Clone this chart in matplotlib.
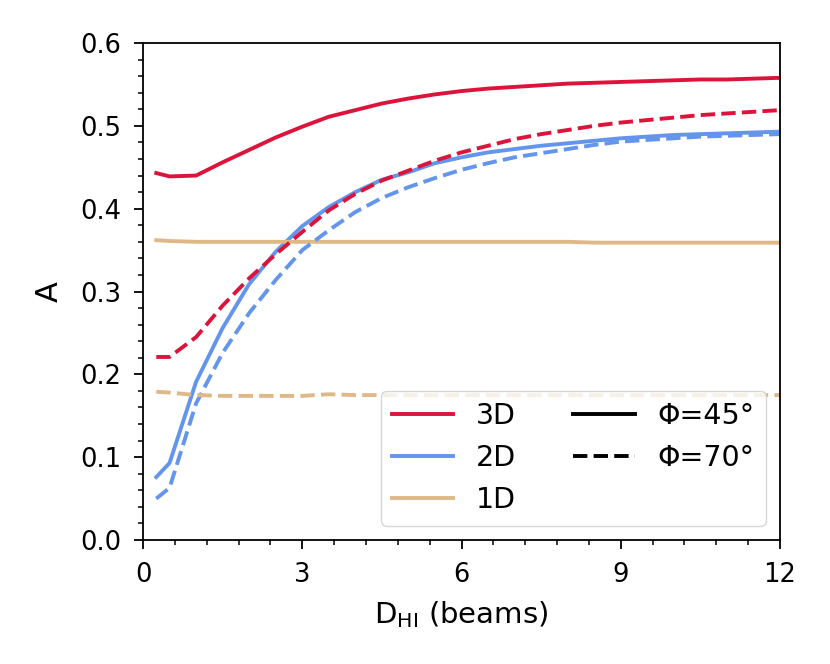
import numpy as np
import matplotlib
matplotlib.use("Agg")
import matplotlib.pyplot as plt
from matplotlib.lines import Line2D

# D_HI in beams
d_hi = [0.25, 0.5, 1.0, 1.5, 2.0, 2.5, 3.0, 3.5, 4.0, 4.5, 5.0, 5.5, 6.0,
        6.5, 7.0, 7.5, 8.0, 8.5, 9.0, 9.5, 10.0, 10.5, 11.0, 11.5, 12.0]

# phi = 45 deg (solid)
a3d_45 = [0.443, 0.439, 0.440, 0.456, 0.471, 0.486, 0.499, 0.511, 0.519, 0.527,
          0.533, 0.538, 0.542, 0.545, 0.547, 0.549, 0.551, 0.552, 0.553, 0.554,
          0.555, 0.556, 0.556, 0.557, 0.558]
a2d_45 = [0.076, 0.093, 0.191, 0.256, 0.309, 0.348, 0.379, 0.402, 0.420, 0.435,
          0.444, 0.455, 0.462, 0.468, 0.472, 0.476, 0.479, 0.482, 0.485, 0.487,
          0.489, 0.490, 0.491, 0.492, 0.493]
a1d_45 = [0.362, 0.361, 0.360, 0.360, 0.360, 0.360, 0.360, 0.360, 0.360, 0.360,
          0.360, 0.360, 0.360, 0.360, 0.360, 0.360, 0.360, 0.359, 0.359, 0.359,
          0.359, 0.359, 0.359, 0.359, 0.359]

# phi = 70 deg (dashed)
a3d_70 = [0.221, 0.221, 0.245, 0.283, 0.316, 0.345, 0.372, 0.398, 0.418, 0.434,
          0.446, 0.458, 0.468, 0.476, 0.484, 0.490, 0.495, 0.500, 0.504, 0.507,
          0.510, 0.513, 0.515, 0.517, 0.519]
a2d_70 = [0.050, 0.063, 0.165, 0.226, 0.274, 0.314, 0.350, 0.374, 0.396, 0.413,
          0.426, 0.437, 0.447, 0.455, 0.462, 0.467, 0.472, 0.477, 0.481, 0.483,
          0.485, 0.487, 0.488, 0.489, 0.490]
a1d_70 = [0.179, 0.178, 0.175, 0.174, 0.174, 0.174, 0.174, 0.176, 0.175, 0.175,
          0.175, 0.175, 0.175, 0.175, 0.175, 0.175, 0.175, 0.175, 0.175, 0.175,
          0.175, 0.175, 0.175, 0.175, 0.175]

c3d = "#DC143C"
c2d = "#6495ED"
c1d = "#DEB887"
lw = 2.8

fig = plt.figure(figsize=(8.3, 6.64), dpi=100)
ax = fig.add_axes([0.1723, 0.1867, 0.7675, 0.7485])

ax.plot(d_hi, a3d_45, color=c3d, lw=lw)
ax.plot(d_hi, a2d_45, color=c2d, lw=lw)
ax.plot(d_hi, a1d_45, color=c1d, lw=lw)
ax.plot(d_hi, a3d_70, color=c3d, lw=lw, ls="--")
ax.plot(d_hi, a2d_70, color=c2d, lw=lw, ls="--")
ax.plot(d_hi, a1d_70, color=c1d, lw=lw, ls="--")

ax.set_xlim(0, 12)
ax.set_ylim(0, 0.6)
ax.set_xticks([0, 3, 6, 9, 12])
ax.set_xticks(np.arange(0, 12.01, 0.6), minor=True)
ax.set_yticks(np.arange(0, 0.61, 0.1))
ax.set_yticks(np.arange(0, 0.601, 0.02), minor=True)
ax.set_yticklabels(["0.0", "0.1", "0.2", "0.3", "0.4", "0.5", "0.6"])

ax.tick_params(which="major", length=6.7, width=1.3, labelsize=18.5, pad=9)
ax.tick_params(which="minor", length=3.6, width=1.1)
for s in ax.spines.values():
    s.set_linewidth(1.3)

ax.set_xlabel(r"D$_{\mathrm{HI}}$ (beams)", fontsize=21, labelpad=8)
ax.set_ylabel("A", fontsize=22, labelpad=12)

handles = [
    Line2D([], [], color=c3d, lw=lw, label="3D"),
    Line2D([], [], color=c2d, lw=lw, label="2D"),
    Line2D([], [], color=c1d, lw=lw, label="1D"),
    Line2D([], [], color="black", lw=lw, label="Φ=45°"),
    Line2D([], [], color="black", lw=lw, ls="--", label="Φ=70°"),
    Line2D([], [], color="none", label=" "),
]
ax.legend(handles=handles, ncol=2, loc="lower right", fontsize=20.5,
          handlelength=2.15)

fig.savefig("out.png", dpi=100)
